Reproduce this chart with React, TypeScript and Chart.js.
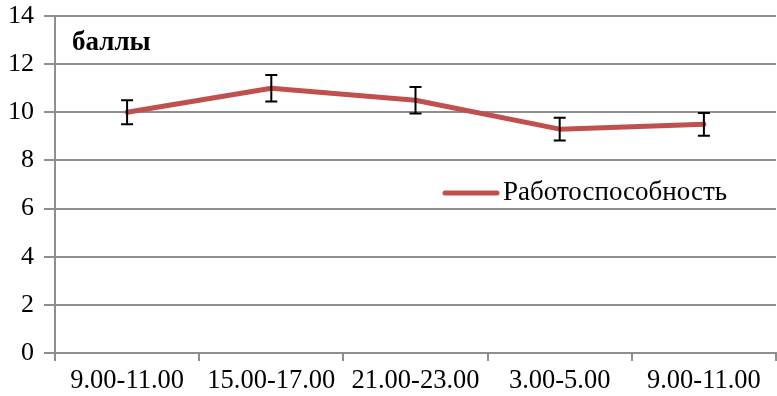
import React, { useEffect, useRef } from "react";
import { Chart, registerables } from "chart.js";

Chart.register(...registerables);

const categories = ["9.00-11.00", "15.00-17.00", "21.00-23.00", "3.00-5.00", "9.00-11.00"];
const values = [10.0, 11.0, 10.5, 9.3, 9.5];
const errors = [0.5, 0.55, 0.55, 0.47, 0.47];
const seriesLabel = "Работоспособность";
const unitLabel = "баллы";
const yTicks = [0, 2, 4, 6, 8, 10, 12, 14];

const FONT = "'Liberation Serif', 'Times New Roman', serif";
const GRID = "#8e8e8e";
const LINE = "#C0504D";

const overlayPlugin = {
  id: "overlay",
  afterDatasetsDraw(chart: any) {
    const ctx = chart.ctx;
    const xs = chart.scales.x;
    const ys = chart.scales.y;
    ctx.save();
    ctx.strokeStyle = "#000";
    ctx.lineWidth = 2;
    values.forEach((v, i) => {
      const x = xs.getPixelForValue(i);
      const top = ys.getPixelForValue(v + errors[i]);
      const bot = ys.getPixelForValue(v - errors[i]);
      ctx.beginPath();
      ctx.moveTo(x, top);
      ctx.lineTo(x, bot);
      ctx.moveTo(x - 6, top);
      ctx.lineTo(x + 6, top);
      ctx.moveTo(x - 6, bot);
      ctx.lineTo(x + 6, bot);
      ctx.stroke();
    });
    // unit label
    const ca = chart.chartArea;
    ctx.fillStyle = "#000";
    ctx.font = `bold 27px ${FONT}`;
    ctx.textBaseline = "middle";
    ctx.textAlign = "left";
    ctx.fillText(unitLabel, ca.left + 17, 43);
    // legend
    const ly = 193;
    ctx.strokeStyle = LINE;
    ctx.lineWidth = 5;
    ctx.lineCap = "round";
    ctx.beginPath();
    ctx.moveTo(445, ly);
    ctx.lineTo(497, ly);
    ctx.stroke();
    ctx.font = `27px ${FONT}`;
    ctx.fillStyle = "#000";
    ctx.fillText(chart.data.datasets[0].label, 503, ly);
    ctx.restore();
  },
};

export default function App() {
  const ref = useRef<HTMLCanvasElement>(null);
  useEffect(() => {
    if (!ref.current) return;
    const chart = new Chart(ref.current, {
      type: "line",
      data: {
        labels: categories,
        datasets: [
          {
            label: seriesLabel,
            data: values,
            borderColor: LINE,
            backgroundColor: LINE,
            borderWidth: 5,
            pointRadius: 0,
            tension: 0,
            borderCapStyle: "round",
            borderJoinStyle: "round",
          },
        ],
      },
      options: {
        animation: false,
        responsive: false,
        maintainAspectRatio: false,
        layout: { padding: { top: 16, right: 1, left: 0, bottom: 0 } },
        plugins: { legend: { display: false }, tooltip: { enabled: false } },
        scales: {
          x: {
            type: "category",
            offset: true,
            grid: {
              offset: true,
              drawOnChartArea: false,
              drawTicks: true,
              tickLength: 8,
              color: GRID,
              lineWidth: 2,
            },
            border: { color: GRID, width: 2 },
            ticks: {
              color: "#000",
              font: { family: FONT, size: 26.5 },
              padding: 4,
              maxRotation: 0,
              autoSkip: false,
            },
            afterFit(scale: any) {
              scale.height = 43;
              scale.paddingLeft = 0;
              scale.paddingRight = 0;
            },
          },
          y: {
            min: 0,
            max: 14,
            afterBuildTicks(scale: any) {
              scale.ticks = yTicks.map((v) => ({ value: v }));
            },
            grid: {
              color: GRID,
              lineWidth: 2,
              tickLength: 11,
              drawTicks: true,
            },
            border: { color: GRID, width: 2 },
            ticks: {
              color: "#000",
              font: { family: FONT, size: 26 },
              padding: 10,
            },
            afterFit(scale: any) {
              scale.width = 55;
              scale.paddingTop = 0;
              scale.paddingBottom = 0;
            },
          },
        },
      },
      plugins: [overlayPlugin],
    });
    return () => chart.destroy();
  }, []);
  return (
    <div style={{ position: "fixed", left: 0, top: 0, width: 777, height: 396, background: "#fff" }}>
      <canvas ref={ref} width={777} height={396} style={{ display: "block" }} />
    </div>
  );
}
